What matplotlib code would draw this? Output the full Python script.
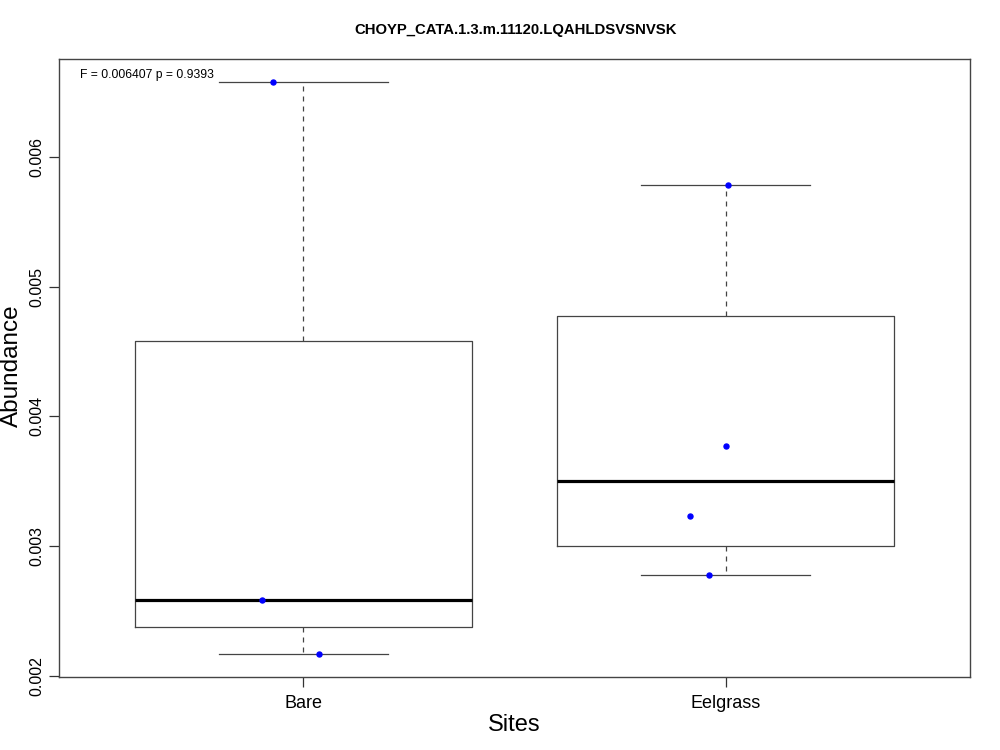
import numpy as np
import matplotlib
matplotlib.use("Agg")
import matplotlib.pyplot as plt

plt.rcParams['font.family'] = ['Liberation Sans', 'DejaVu Sans']

sites = ["Bare", "Eelgrass"]
bare = [0.006578, 0.002586, 0.002170]
eelgrass = [0.005784, 0.003771, 0.003231, 0.002774]
# horizontal jitter of the plotted points
bare_jit = [-0.073, -0.098, 0.036]
eel_jit = [0.006, 0.002, -0.084, -0.040]
title = "CHOYP_CATA.1.3.m.11120.LQAHLDSVSNVSK"
note = "F = 0.006407 p = 0.9393"


def fivenum(x):
    # Tukey hinges, as R's boxplot does
    x = np.sort(np.asarray(x, dtype=float))
    n = len(x)
    n4 = np.floor((n + 3) / 2) / 2
    d = np.array([1, n4, (n + 1) / 2, n + 1 - n4, n]) - 1
    return 0.5 * (x[np.floor(d).astype(int)] + x[np.ceil(d).astype(int)])


def main():
    fig = plt.figure(figsize=(10, 7.5), dpi=100)
    ax = fig.add_axes([0.059, 0.098, 0.911, 0.823])

    groups = [bare, eelgrass]
    jits = [bare_jit, eel_jit]
    stats = []
    for vals in groups:
        lo, q1, med, q3, hi = fivenum(vals)
        stats.append(dict(whislo=lo, q1=q1, med=med, q3=q3, whishi=hi, fliers=[]))

    ax.bxp(stats, positions=[1, 2], widths=0.8, showfliers=False,
           boxprops=dict(color='#444444', linewidth=0.9),
           medianprops=dict(color='black', linewidth=2.3),
           whiskerprops=dict(color='#444444', linewidth=0.9, linestyle=(0, (4, 4))),
           capprops=dict(color='#444444', linewidth=0.9), capwidths=0.4)

    for i, (vals, jit) in enumerate(zip(groups, jits)):
        ax.plot(np.array(jit) + i + 1, vals, 'o', color='blue', markersize=3.6,
                zorder=5)

    allv = np.concatenate([bare, eelgrass])
    rng = allv.max() - allv.min()
    ax.set_ylim(allv.min() - 0.04 * rng, allv.max() + 0.04 * rng)
    ax.set_xlim(0.421, 2.579)

    ax.set_yticks([0.002, 0.003, 0.004, 0.005, 0.006])
    ax.set_yticklabels(["0.002", "0.003", "0.004", "0.005", "0.006"],
                       rotation=90, va='center', fontsize=11.5)
    ax.set_xticks([1, 2])
    ax.set_xticklabels(sites, fontsize=13)
    ax.tick_params(direction='out', length=7, width=0.9, color='#333333')
    ax.tick_params(axis='y', pad=3.5)
    ax.tick_params(axis='x', pad=6)
    for s in ax.spines.values():
        s.set_color('#444444')
        s.set_linewidth(1.0)

    fig.text(0.514, 0.033, "Sites", ha='center', va='center', fontsize=17)
    fig.text(0.012, 0.512, "Abundance", ha='center', va='center',
             rotation=90, fontsize=17.5)
    fig.text(0.516, 0.96, title, ha='center', va='center',
             fontsize=10.7, fontweight='bold')
    ax.text(0.023, 0.984, note, transform=ax.transAxes, ha='left', va='top',
            fontsize=8.7)

    fig.savefig("out.png", dpi=100)


if __name__ == '__main__':
    main()
